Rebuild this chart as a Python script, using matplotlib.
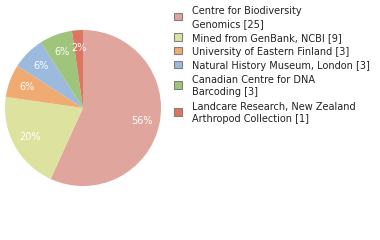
import matplotlib.pyplot as plt
from matplotlib.patches import Rectangle

labels = ['Centre for Biodiversity\nGenomics [25]',
          'Mined from GenBank, NCBI [9]',
          'University of Eastern Finland [3]',
          'Natural History Museum, London [3]',
          'Canadian Centre for DNA\nBarcoding [3]',
          'Landcare Research, New Zealand\nArthropod Collection [1]']
counts = [25, 9, 3, 3, 3, 1]
colors = ['#e0a59c', '#dde39e', '#f0ab72', '#9cb9de', '#9fc47b', '#dd7560']

W, H = 380, 240
fig = plt.figure(figsize=(W / 100, H / 100), dpi=100)

# pie: centre (83,108) px, radius 78 px
cx, cy, r = 83, 108, 78
ax = fig.add_axes([(cx - r) / W, (H - cy - r) / H, 2 * r / W, 2 * r / H])
wedges, texts, autotexts = ax.pie(counts, colors=colors, startangle=90, counterclock=False,
                                  autopct=lambda p: '%d%%' % int(p), pctdistance=0.77,
                                  wedgeprops=dict(linewidth=0),
                                  textprops=dict(color='white', fontsize=7))
ax.set_xlim(-1, 1)
ax.set_ylim(-1, 1)
ax.set_aspect('equal')
ax.axis('off')

# legend drawn by hand
lh = 13.2
y = 3.5
for lab, col in zip(labels, colors):
    n = lab.count('\n') + 1
    yc = y + n * lh / 2
    fig.patches.append(Rectangle((174 / W, 1 - (yc + 3.5) / H), 7.5 / W, 7.5 / H,
                                 transform=fig.transFigure, facecolor=col,
                                 edgecolor='#808080', linewidth=0.8))
    fig.text(192 / W, 1 - (yc + 1) / H, lab, fontsize=7, color='#222222',
             va='center', ha='left', linespacing=1.35)
    y += n * lh + 0.6

fig.savefig('out.png', dpi=100)
